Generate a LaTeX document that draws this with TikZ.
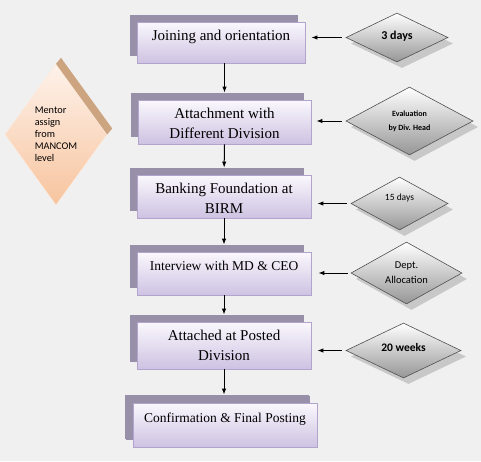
\documentclass[tikz,border=0pt]{standalone}
\usepackage{fontspec}
\setmainfont{Liberation Serif}
\newfontfamily\carlito{Carlito}
\usetikzlibrary{shapes.geometric,shadows,arrows.meta}
\definecolor{bgc}{RGB}{240,240,240}
\definecolor{boxtop}{RGB}{250,248,253}
\definecolor{boxbot}{RGB}{206,194,226}
\definecolor{boxborder}{RGB}{178,164,204}
\definecolor{boxshadow}{RGB}{152,144,168}
\definecolor{diabot}{RGB}{150,150,150}
\definecolor{diaborder}{RGB}{80,80,80}
\definecolor{diashadow}{RGB}{200,200,200}
\definecolor{mtop}{RGB}{254,242,234}
\definecolor{mbot}{RGB}{247,196,158}
\definecolor{mside}{RGB}{204,164,128}
\begin{document}
\begin{tikzpicture}[x=1pt,y=-1pt,
  stagebox/.style={draw=boxborder, line width=0.8pt, top color=boxtop, bottom color=boxbot,
    drop shadow={shadow xshift=-7pt, shadow yshift=7pt, opacity=1, fill=boxshadow},
    inner sep=0pt, align=center, font=\fontsize{15}{20}\selectfont},
  smallbox/.style={stagebox, font=\fontsize{13.5}{18}\selectfont},
  dia/.style={diamond, aspect=2, draw=diaborder, line width=0.6pt, top color=white, bottom color=diabot,
    drop shadow={shadow xshift=5pt, shadow yshift=-6pt, opacity=1, fill=diashadow},
    inner sep=0pt, align=center},
  mentor/.style={diamond, aspect=0.72, top color=mtop, bottom color=mbot, draw=mtop!80!mbot, line width=0.4pt,
    inner sep=0pt, align=left, font=\carlito\fontsize{10.3}{12}\selectfont},
  arr/.style={line width=1pt, -{Latex[length=6pt,width=4.5pt]}}
]
\fill[bgc] (0,0) rectangle (481,461);
\useasboundingbox (0,0) rectangle (481,461);

% mentor diamond
\node[mentor, minimum width=102pt, minimum height=141pt] (m) at (56,134.5)
  {Mentor\\assign\\from\\MANCOM\\level};
\fill[mside] (m.north) -- ([shift={(5,-6)}]m.north) -- ([shift={(5,-6)}]m.east) -- (m.east) -- cycle;

% stage boxes
\node[stagebox, minimum width=168pt, minimum height=41pt, text height=10pt, text depth=14pt] (b1) at (221,42.5) {Joining and orientation};
\node[stagebox, minimum width=173pt, minimum height=44pt, text height=33pt, text depth=0pt] (b2) at (224.5,122) {Attachment with\\Different Division};
\node[stagebox, minimum width=174pt, minimum height=43pt, text height=34pt, text depth=0pt] (b3) at (224,196.5) {Banking Foundation at\\BIRM};
\node[smallbox, minimum width=174pt, minimum height=43pt, text height=10pt, text depth=17pt] (b4) at (224,273.5) {Interview with MD \& CEO};
\node[stagebox, minimum width=174pt, minimum height=47pt, text height=30pt, text depth=0pt] (b5) at (224,345.5) {Attached at Posted\\Division};
\node[smallbox, minimum width=184pt, minimum height=44pt, text height=10pt, text depth=16pt,
  drop shadow={shadow xshift=-8pt, shadow yshift=8pt, opacity=1, fill=boxshadow}] (b6) at (225,425) {Confirmation \& Final Posting};

% right diamonds
\node[dia, minimum width=102pt, minimum height=49pt, font=\carlito\bfseries\fontsize{12}{14}\selectfont, text height=8pt, text depth=4pt] (d1) at (397,37.5) {3 days};
\node[dia, minimum width=127pt, minimum height=68pt, font=\carlito\bfseries\fontsize{8}{14}\selectfont] (d2) at (409.5,121) {Evaluation\\by Div. Head};
\node[dia, minimum width=97pt, minimum height=53pt, font=\carlito\fontsize{9.5}{13}\selectfont, text height=6pt, text depth=12pt] (d3) at (399.5,203.5) {15 days};
\node[dia, minimum width=111pt, minimum height=62pt, font=\carlito\fontsize{10.5}{15}\selectfont] (d4) at (406.5,273) {Dept.\\Allocation};
\node[dia, minimum width=115pt, minimum height=55pt, font=\carlito\bfseries\fontsize{11.5}{14}\selectfont, text height=8pt, text depth=6pt] (d5) at (403.5,350.5) {20 weeks};

% vertical arrows
\draw[arr, shorten >=7pt] (b1.south -| b2.north) -- (b2.north);
\draw[arr, shorten >=7pt] (b2.south) -- (b3.north);
\draw[arr, shorten >=7pt] (b3.south) -- (b4.north);
\draw[arr, shorten >=7pt] (b4.south) -- (b5.north);
\draw[arr, shorten >=8pt] (b5.south) -- (b6.north -| b5.south);

% horizontal arrows
\draw[arr, shorten <=4pt, shorten >=6pt] (d1.west) -- (d1.west -| b1.east);
\draw[arr, shorten <=4pt, shorten >=5pt] (d2.west) -- (d2.west -| b2.east);
\draw[arr, shorten <=4pt, shorten >=6pt] (d3.west) -- (d3.west -| b3.east);
\draw[arr, shorten <=3pt, shorten >=7pt] (d4.west) -- (d4.west -| b4.east);
\draw[arr, shorten <=4pt, shorten >=6pt] (d5.west) -- (d5.west -| b5.east);
\end{tikzpicture}
\end{document}
